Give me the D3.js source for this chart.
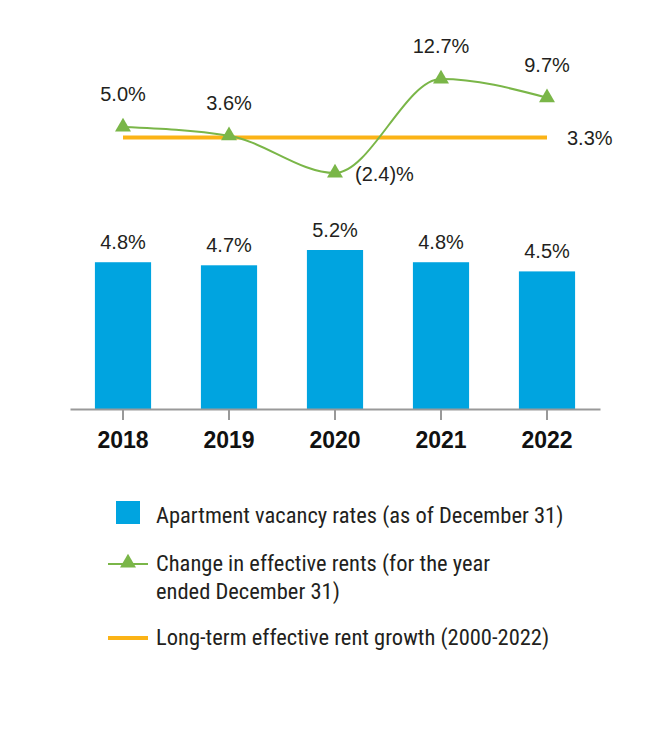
<!DOCTYPE html>
<html>
<head>
<meta charset="utf-8">
<script src="https://cdn.jsdelivr.net/npm/d3@7"></script>
<style>
  html, body { margin: 0; padding: 0; background: #fff; }
  svg text { font-family: "Liberation Sans", Arial, sans-serif; }
  svg text.narrow { font-family: "Roboto Condensed", "Liberation Sans Narrow", sans-serif; }
</style>
</head>
<body>
<svg id="chart" width="670" height="740"></svg>
<script>
const years = ["2018", "2019", "2020", "2021", "2022"];
const vacancyRates = [4.8, 4.7, 5.2, 4.8, 4.5];
const vacancyLabels = ["4.8%", "4.7%", "5.2%", "4.8%", "4.5%"];
const rentChanges = [5.0, 3.6, -2.4, 12.7, 9.7];
const rentLabels = ["5.0%", "3.6%", "(2.4)%", "12.7%", "9.7%"];
const longTermGrowth = 3.3;
const longTermLabel = "3.3%";
const legendLabels = [
  ["Apartment vacancy rates (as of December 31)"],
  ["Change in effective rents (for the year", "ended December 31)"],
  ["Long-term effective rent growth (2000-2022)"]
];

const BLUE = "#00a4e0", GREEN = "#7ab648", ORANGE = "#fbb316";

const svg = d3.select("#chart");

const x = d3.scaleBand().domain(years).range([70, 600]).paddingInner(0.47).paddingOuter(0.235);
const yBar = d3.scaleLinear().domain([0, 5.2]).range([409, 250]);
const yLine = d3.scaleLinear().domain([-2.4, 12.7]).range([173, 79]);
const cx = d => x(d) + x.bandwidth() / 2;

// bars
svg.append("g").selectAll("rect").data(years).join("rect")
  .attr("x", d => x(d)).attr("width", x.bandwidth())
  .attr("y", (d, i) => yBar(vacancyRates[i]))
  .attr("height", (d, i) => yBar(0) - yBar(vacancyRates[i]))
  .attr("fill", BLUE);

svg.append("g").selectAll("text").data(years).join("text")
  .attr("x", d => cx(d)).attr("y", (d, i) => yBar(vacancyRates[i]) - 13.5)
  .attr("text-anchor", "middle").attr("font-size", 20).attr("fill", "#231f20")
  .text((d, i) => vacancyLabels[i]);

// axis
const axis = svg.append("g").attr("transform", "translate(0,409)")
  .call(d3.axisBottom(x).tickSizeInner(11).tickSizeOuter(0).tickPadding(12));
axis.select(".domain").attr("stroke", "#999").attr("stroke-width", 2);
axis.selectAll(".tick line").attr("stroke", "#999").attr("stroke-width", 2);
axis.selectAll(".tick text").attr("font-size", 23).attr("font-weight", "bold")
  .attr("fill", "#111").attr("font-family", '"Liberation Sans", Arial, sans-serif');

// long-term line
svg.append("line")
  .attr("x1", cx(years[0])).attr("x2", cx(years[years.length - 1]))
  .attr("y1", yLine(longTermGrowth)).attr("y2", yLine(longTermGrowth))
  .attr("stroke", ORANGE).attr("stroke-width", 4);
svg.append("text")
  .attr("x", cx(years[years.length - 1]) + 20).attr("y", yLine(longTermGrowth) + 7)
  .attr("font-size", 20).attr("fill", "#231f20").text(longTermLabel);

// rent change line
const line = d3.line().x(d => cx(d[0])).y(d => yLine(d[1])).curve(d3.curveMonotoneX);
svg.append("path").datum(years.map((d, i) => [d, rentChanges[i]]))
  .attr("d", line).attr("fill", "none").attr("stroke", GREEN).attr("stroke-width", 2);

const tri = d3.symbol().type(d3.symbolTriangle).size(110);
svg.append("g").selectAll("path").data(years).join("path")
  .attr("d", tri)
  .attr("transform", (d, i) => `translate(${cx(d)},${yLine(rentChanges[i])})`)
  .attr("fill", GREEN);

svg.append("g").selectAll("text").data(years).join("text")
  .attr("x", (d, i) => rentChanges[i] < 0 ? cx(d) + 20 : cx(d))
  .attr("y", (d, i) => rentChanges[i] < 0 ? yLine(rentChanges[i]) + 8 : yLine(rentChanges[i]) - 26)
  .attr("text-anchor", (d, i) => rentChanges[i] < 0 ? "start" : "middle")
  .attr("font-size", 20).attr("fill", "#231f20")
  .text((d, i) => rentLabels[i]);

// legend
const lg = svg.append("g");
lg.append("rect").attr("x", 116).attr("y", 501).attr("width", 24).attr("height", 23).attr("fill", BLUE);
lg.append("line").attr("x1", 108).attr("x2", 148).attr("y1", 564).attr("y2", 564)
  .attr("stroke", GREEN).attr("stroke-width", 2);
lg.append("path").attr("d", tri).attr("transform", "translate(128,563)").attr("fill", GREEN);
lg.append("line").attr("x1", 108).attr("x2", 148).attr("y1", 638).attr("y2", 638)
  .attr("stroke", ORANGE).attr("stroke-width", 4);

const legendY = [515, 563, 637];
legendLabels.forEach((lines, i) => {
  lines.forEach((t, j) => {
    lg.append("text").attr("class", "narrow").attr("x", 156).attr("y", legendY[i] + j * 28 + 8)
      .attr("font-size", 22.5).attr("fill", "#231f20").text(t);
  });
});
</script>
</body>
</html>
